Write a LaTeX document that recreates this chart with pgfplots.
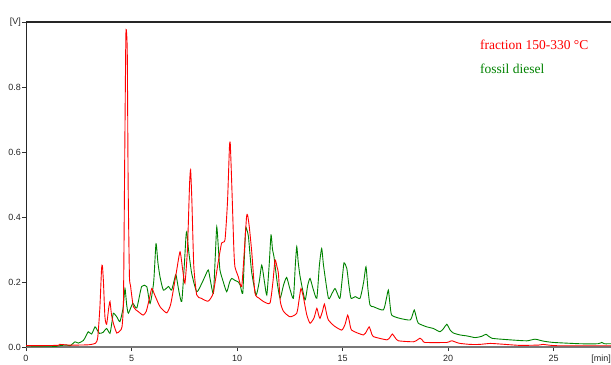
\documentclass[border=0pt]{standalone}
\usepackage{fontspec}
\setmainfont{Liberation Serif}
\newfontfamily\tickfont{Liberation Sans}
\usepackage{pgfplots}
\pgfplotsset{compat=1.18}
\definecolor{cred}{RGB}{255,0,0}
\definecolor{cgreen}{RGB}{0,130,0}
\begin{document}
\begin{tikzpicture}
\begin{axis}[
  scale only axis, width=585bp, height=325bp,
  xmin=0, xmax=27.72, ymin=0, ymax=1.0,
  axis lines*=left, axis line style={-},
  x axis line style={draw={rgb,255:red,120;green,120;blue,120}, line width=2bp},
  y axis line style={draw=black!85, line width=1bp},
  xtick={0,5,10,15,20,25},
  ytick={0,0.2,0.4,0.6,0.8,1.0},
  yticklabels={0.0,0.2,0.4,0.6,0.8,{[V]}},
  tick align=outside, major tick length=4bp,
  tick style={black!80, line width=0.6bp},
  /pgf/number format/assume math mode=true,
  ticklabel style={font=\tickfont\fontsize{9bp}{10bp}\selectfont, text=black!85},
  yticklabel style={inner sep=1bp},
  xticklabel style={inner sep=1bp, yshift=-3.5bp},
  clip=true,
  legend style={draw=none, fill=none, at={(rel axis cs:0.776,0.944)}, anchor=north west,
    font=\fontsize{13.5bp}{15bp}\selectfont, row sep=13bp, inner sep=0pt,
    nodes={inner sep=0pt}},
  legend cell align=left,
  legend image code/.code={},
  reverse legend,
]
\coordinate (O) at (rel axis cs:0,0);
\draw[black!85, line width=1.5bp] (rel axis cs:0,1) -- (rel axis cs:1,1);
\addplot[cgreen, line width=0.9bp, smooth, tension=0.35] coordinates {
(0,0.0) (1.3,0.001) (1.5,0.003) (1.7,0.005) (1.93,0.006) (2.1,0.004) (2.32,0.016) (2.48,0.012)
(2.72,0.02) (2.85,0.035) (2.95,0.047) (3.11,0.04) (3.27,0.062) (3.35,0.055) (3.48,0.042)
(3.65,0.045) (3.82,0.057) (3.98,0.042) (4.08,0.08) (4.14,0.104) (4.3,0.093) (4.45,0.078)
(4.6,0.12) (4.69,0.18) (4.77,0.13) (4.85,0.104) (5.06,0.134) (5.25,0.12) (5.48,0.186)
(5.72,0.186) (5.88,0.134) (6.05,0.2) (6.16,0.318) (6.25,0.26) (6.35,0.216) (6.51,0.175)
(6.75,0.186) (6.9,0.175) (7.06,0.215) (7.11,0.222) (7.25,0.17) (7.38,0.14) (7.5,0.25)
(7.58,0.34) (7.62,0.355) (7.7,0.3) (7.85,0.227) (8.09,0.17) (8.33,0.196) (8.5,0.22)
(8.64,0.237) (8.75,0.2) (8.88,0.165) (8.97,0.28) (9.04,0.37) (9.12,0.3) (9.19,0.237)
(9.35,0.2) (9.51,0.17) (9.65,0.2) (9.75,0.211) (9.9,0.205) (10.06,0.2) (10.15,0.19)
(10.27,0.165) (10.35,0.28) (10.41,0.365) (10.47,0.36) (10.54,0.34) (10.62,0.28) (10.7,0.227)
(10.9,0.16) (11.05,0.2) (11.17,0.252) (11.3,0.2) (11.41,0.16) (11.52,0.25) (11.61,0.345)
(11.68,0.3) (11.75,0.278) (11.9,0.2) (12.04,0.15) (12.2,0.19) (12.35,0.214) (12.5,0.18)
(12.67,0.15) (12.76,0.25) (12.83,0.309) (12.9,0.26) (12.99,0.216) (13.22,0.145) (13.35,0.19)
(13.46,0.211) (13.6,0.18) (13.78,0.15) (13.9,0.25) (14.01,0.303) (14.1,0.25) (14.33,0.15)
(14.5,0.165) (14.64,0.18) (14.75,0.165) (14.88,0.15) (15.0,0.22) (15.07,0.259) (15.2,0.242)
(15.3,0.19) (15.4,0.15) (15.6,0.155) (15.83,0.15) (16.0,0.2) (16.11,0.247) (16.2,0.18)
(16.3,0.129) (16.46,0.124) (16.93,0.114) (17.08,0.15) (17.17,0.175) (17.25,0.13) (17.33,0.098)
(17.72,0.088) (18.2,0.083) (18.32,0.1) (18.4,0.114) (18.5,0.09) (18.59,0.073) (18.99,0.062)
(19.3,0.057) (19.62,0.047) (19.8,0.058) (19.94,0.07) (20.1,0.052) (20.25,0.043) (20.57,0.037)
(20.9,0.034) (21.28,0.029) (21.6,0.033) (21.8,0.039) (22.07,0.027) (22.94,0.022) (23.73,0.019)
(24.12,0.024) (24.52,0.018) (25.0,0.014) (26.26,0.01) (27.1,0.01) (27.28,0.014) (27.4,0.01)
(27.72,0.01)
};
\addlegendentry{\textcolor{cgreen}{fossil diesel}}
\addplot[cred, line width=0.9bp, smooth, tension=0.35] coordinates {
(0,0.004) (1.5,0.005) (1.6,0.008) (2.0,0.006) (2.5,0.006) (3.0,0.007) (3.3,0.012) (3.4,0.03)
(3.5,0.12) (3.58,0.24) (3.62,0.25) (3.67,0.2) (3.74,0.093) (3.82,0.07) (3.92,0.12) (3.98,0.14)
(4.05,0.1) (4.14,0.073) (4.3,0.043) (4.45,0.05) (4.55,0.062) (4.62,0.15) (4.68,0.6) (4.73,0.95)
(4.76,0.972) (4.8,0.9) (4.84,0.5) (4.9,0.22) (4.95,0.19) (5.09,0.124) (5.32,0.109) (5.55,0.098)
(5.7,0.11) (5.85,0.15) (5.96,0.18) (6.1,0.16) (6.35,0.124) (6.67,0.105) (6.85,0.13) (6.98,0.175)
(7.15,0.24) (7.3,0.293) (7.42,0.24) (7.53,0.196) (7.65,0.3) (7.75,0.5) (7.8,0.545) (7.86,0.45)
(7.95,0.25) (8.09,0.16) (8.3,0.15) (8.63,0.141) (8.87,0.166) (9.1,0.258) (9.27,0.32) (9.43,0.33)
(9.55,0.45) (9.64,0.615) (9.68,0.625) (9.75,0.5) (9.85,0.3) (9.9,0.247) (10.06,0.216) (10.22,0.186)
(10.35,0.3) (10.45,0.4) (10.5,0.406) (10.58,0.37) (10.7,0.29) (10.85,0.166) (11.05,0.15)
(11.25,0.14) (11.56,0.135) (11.7,0.2) (11.8,0.268) (11.9,0.245) (11.96,0.227) (12.05,0.14)
(12.2,0.11) (12.51,0.093) (12.83,0.104) (12.95,0.15) (13.03,0.18) (13.14,0.155) (13.3,0.1)
(13.46,0.073) (13.65,0.09) (13.78,0.119) (13.86,0.1) (13.93,0.088) (14.05,0.11) (14.14,0.132)
(14.25,0.1) (14.33,0.083) (14.6,0.065) (14.96,0.052) (15.12,0.07) (15.24,0.098) (15.32,0.08)
(15.43,0.052) (15.99,0.037) (16.15,0.05) (16.26,0.062) (16.36,0.045) (16.46,0.032) (17.1,0.022)
(17.25,0.03) (17.36,0.04) (17.5,0.028) (17.65,0.019) (18.36,0.016) (18.55,0.022) (18.67,0.027)
(18.8,0.02) (18.9,0.014) (19.94,0.014) (20.1,0.018) (20.2,0.019) (20.4,0.014) (20.57,0.011)
(21.04,0.008) (21.5,0.008) (22.0,0.011) (22.5,0.009) (23.4,0.005) (24.3,0.006) (24.5,0.008)
(25.15,0.004) (27.72,0.004)
};
\addlegendentry{\textcolor{cred}{fraction 150-330 °C}}
\end{axis}
\node[anchor=north east, inner sep=0pt, font=\tickfont\fontsize{9bp}{10bp}\selectfont, text=black!85]
  at ([shift={(585bp,-8bp)}]O) {[min]};
\pgfresetboundingbox
\path ([shift={(-26bp,-18bp)}]O) rectangle ([shift={(585bp,347bp)}]O);
\end{tikzpicture}
\end{document}
